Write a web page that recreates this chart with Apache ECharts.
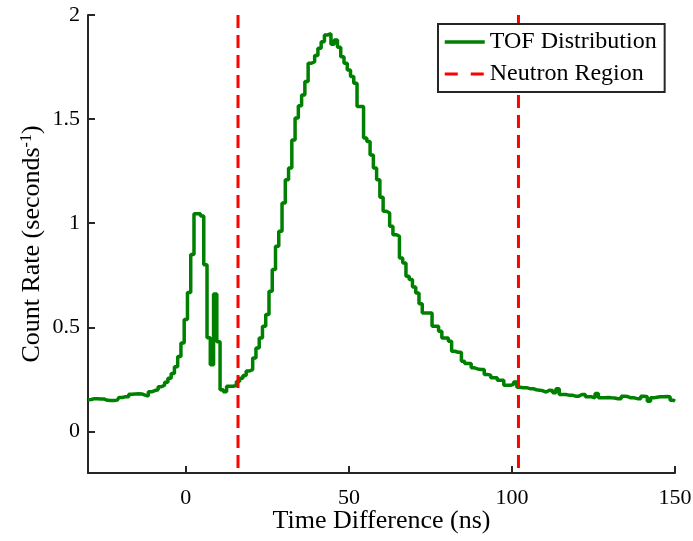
<!DOCTYPE html>
<html><head><meta charset="utf-8">
<script src="https://cdn.jsdelivr.net/npm/echarts@6/dist/echarts.min.js"></script>
<style>html,body{margin:0;padding:0;background:#fff}#c{width:693px;height:541px}</style>
</head><body><div id="c"></div>
<script>
// ---- data ----
const binStart = -30;   // ns, centre of first bin
const binWidth = 1;     // ns
const countRate = [
  0.152, 0.153, 0.157, 0.157, 0.156, 0.155, 0.149, 0.148, 0.148, 0.150,
  0.163, 0.166, 0.166, 0.178, 0.180, 0.181, 0.180, 0.174, 0.170, 0.190,
  0.196, 0.200, 0.214, 0.222, 0.236, 0.255, 0.278, 0.310, 0.360, 0.425,
  0.537, 0.667, 0.849, 1.045, 1.045, 1.035, 0.800, 0.450, 0.320, 0.660,
  0.430, 0.200, 0.190, 0.217, 0.217, 0.220, 0.240, 0.255, 0.268, 0.290,
  0.297, 0.353, 0.401, 0.449, 0.505, 0.561, 0.673, 0.777, 0.889, 0.961,
  1.097, 1.209, 1.265, 1.400, 1.505, 1.564, 1.616, 1.680, 1.768, 1.776,
  1.805, 1.840, 1.872, 1.904, 1.910, 1.860, 1.880, 1.845, 1.800, 1.768,
  1.736, 1.704, 1.672, 1.560, 1.560, 1.409, 1.392, 1.328, 1.265, 1.209,
  1.125, 1.057, 1.049, 0.985, 0.945, 0.937, 0.833, 0.809, 0.745, 0.729,
  0.693, 0.665, 0.613, 0.569, 0.569, 0.569, 0.505, 0.505, 0.481, 0.449,
  0.449, 0.433, 0.385, 0.380, 0.380, 0.337, 0.326, 0.326, 0.305, 0.300,
  0.297, 0.297, 0.273, 0.270, 0.257, 0.257, 0.246, 0.246, 0.221, 0.221,
  0.226, 0.237, 0.212, 0.210, 0.210, 0.205, 0.205, 0.200, 0.198, 0.195,
  0.189, 0.198, 0.196, 0.186, 0.205, 0.177, 0.177, 0.174, 0.174, 0.169,
  0.169, 0.177, 0.177, 0.166, 0.166, 0.161, 0.182, 0.161, 0.161, 0.163,
  0.161, 0.160, 0.157, 0.157, 0.169, 0.167, 0.161, 0.161, 0.157, 0.157,
  0.169, 0.166, 0.145, 0.161, 0.164, 0.166, 0.166, 0.167, 0.166, 0.150,
  0.145
];
const neutronBounds = [16, 102];
const xRange = [-30, 150];
const yRange = [-0.2, 2];
const seriesNames = ['TOF Distribution', 'Neutron Region'];
const xTitle = 'Time Difference (ns)';
const yTitle = 'Count Rate (seconds{sup|-1})';

// ---- build ----
const tofData = countRate.map((v, i) => [binStart + i * binWidth, v]);
const FONT = 'Liberation Serif';
const AX = '#262626';

const lineSeries = neutronBounds.map(b => ({
  name: seriesNames[1], type: 'line', symbol: 'none', silent: true,
  data: [[b, yRange[1]], [b, yRange[0]]],
  lineStyle: { color: '#ff0000', width: 3, type: [13, 7] },
  itemStyle: { color: '#ff0000' }, z: 3
}));

const chart = echarts.init(document.getElementById('c'), null, { renderer: 'canvas' });
chart.setOption({
  animation: false,
  backgroundColor: '#fff',
  grid: { left: 88, right: 18, top: 15, bottom: 68, containLabel: false, outerBoundsMode: 'none' },
  legend: {
    orient: 'vertical', left: 438, top: 24,
    itemWidth: 40, itemHeight: 14, itemGap: 6,
    padding: [5, 8, 5, 5],
    borderColor: AX, borderWidth: 2, backgroundColor: '#fff',
    itemStyle: { color: 'rgba(0,0,0,0)', borderWidth: 0, opacity: 0 },
    textStyle: { fontFamily: FONT, fontSize: 24, color: '#000', lineHeight: 26 },
    data: [
      { name: seriesNames[0], lineStyle: { width: 3.5 } },
      { name: seriesNames[1], lineStyle: { width: 3, type: [13, 13] } }
    ]
  },
  xAxis: {
    type: 'value', min: xRange[0], max: xRange[1], splitNumber: 4,
    name: xTitle, nameLocation: 'middle', nameGap: 35, nameMoveOverlap: false,
    nameTextStyle: { fontFamily: FONT, fontSize: 26, color: '#000' },
    axisLine: { onZero: false, lineStyle: { color: AX, width: 2 } },
    axisTick: { inside: true, length: 7, lineStyle: { color: AX, width: 2 } },
    axisLabel: { fontFamily: FONT, fontSize: 22, color: '#000', margin: 14, showMinLabel: false },
    splitLine: { show: false }
  },
  yAxis: {
    type: 'value', min: yRange[0], max: yRange[1], splitNumber: 5,
    name: yTitle, nameLocation: 'middle', nameGap: 43, nameMoveOverlap: false,
    nameTextStyle: {
      fontFamily: FONT, fontSize: 26, color: '#000',
      rich: { sup: { fontFamily: FONT, fontSize: 16, color: '#000', verticalAlign: 'top', lineHeight: 14 } }
    },
    axisLine: { onZero: false, lineStyle: { color: AX, width: 2 } },
    axisTick: { inside: true, length: 7, lineStyle: { color: AX, width: 2 } },
    axisLabel: { fontFamily: FONT, fontSize: 22, color: '#000', margin: 8, showMinLabel: false },
    splitLine: { show: false }
  },
  series: [
    {
      name: seriesNames[0], type: 'line', step: 'middle', symbol: 'none',
      data: tofData,
      lineStyle: { color: '#008000', width: 3.5 },
      itemStyle: { color: '#008000' }, z: 2
    }
  ].concat(lineSeries)
});
</script></body></html>
